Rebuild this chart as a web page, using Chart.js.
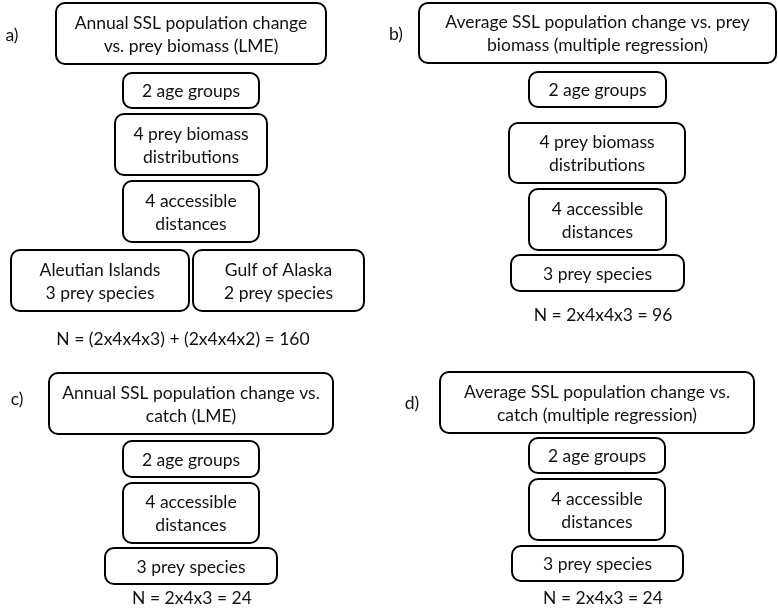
<!DOCTYPE html>
<html>
<head>
<meta charset="utf-8">
<script src="https://cdn.jsdelivr.net/npm/chart.js@4"></script>
<style>
  html, body { margin: 0; padding: 0; background: #fff; }
  #wrap { width: 778px; height: 612px; }
</style>
</head>
<body>
<div id="wrap"><canvas id="chart"></canvas></div>
<script>
// ---------------------------------------------------------------
//  Model design diagram – boxes drawn on hidden linear scales
// ---------------------------------------------------------------

// box texts (lines split by "|")
const boxLabels = [
    "Annual SSL population change|vs. prey biomass (LME)",
    "2 age groups",
    "4 prey biomass|distributions",
    "4 accessible|distances",
    "Aleutian Islands|3 prey species",
    "Gulf of Alaska|2 prey species",
    "Average SSL population change vs. prey|biomass (multiple regression)",
    "2 age groups",
    "4 prey biomass|distributions",
    "4 accessible|distances",
    "3 prey species",
    "Annual SSL population change vs.|catch (LME)",
    "2 age groups",
    "4 accessible|distances",
    "3 prey species",
    "Average SSL population change vs.|catch (multiple regression)",
    "2 age groups",
    "4 accessible|distances",
    "3 prey species"
];
// box extents in diagram units
const boxLeft   = [56, 123, 115, 123, 11, 193, 419, 529, 509, 529, 511, 49, 123, 123, 105, 440, 529, 529, 512];
const boxRight  = [326, 259, 267, 259, 189, 364, 776, 666, 685, 666, 684, 333, 259, 259, 277, 754, 665, 665, 683];
const boxTop    = [3, 73, 114, 181, 250, 250, 3, 72, 123, 189, 255, 373, 441, 483, 548, 372, 438, 479, 546];
const boxBottom = [64, 108, 175, 242, 311, 311, 63, 107, 183, 250, 291, 434, 477, 543, 584, 433, 473, 540, 581];

// free text: panel letters and sample sizes
const noteLabels = ["a)", "b)", "c)", "d)",
    "N = (2x4x4x3) + (2x4x4x2) = 160", "N = 2x4x4x3 = 96",
    "N = 2x4x3 = 24", "N = 2x4x3 = 24"];
const noteX = [12, 396, 17, 412, 183, 603, 192, 603];
const noteY = [35, 34, 399, 403, 339, 315, 598, 598];

const FONT = "Lato";
const FONT_SIZE = 17.5;
const LINE_H = 23;

const boxPlugin = {
    id: "boxes",
    afterDatasetsDraw(chart) {
        const ctx = chart.ctx;
        const xs = chart.scales.x;
        const ys = chart.scales.y;

        ctx.save();
        ctx.font = `${FONT_SIZE}px ${FONT}`;
        ctx.textAlign = "center";
        ctx.textBaseline = "middle";

        boxLabels.forEach((txt, i) => {
            const x0 = xs.getPixelForValue(boxLeft[i]);
            const x1 = xs.getPixelForValue(boxRight[i]);
            const y0 = ys.getPixelForValue(boxTop[i]);
            const y1 = ys.getPixelForValue(boxBottom[i]);

            ctx.beginPath();
            ctx.roundRect(x0, y0, x1 - x0, y1 - y0, 9);
            ctx.lineWidth = 2;
            ctx.strokeStyle = "#000";
            ctx.stroke();

            const lines = txt.split("|");
            const cx = (x0 + x1) / 2;
            const cy = (y0 + y1) / 2 + 1;
            ctx.fillStyle = "#111";
            lines.forEach((ln, k) => {
                ctx.fillText(ln, cx, cy + (k - (lines.length - 1) / 2) * LINE_H);
            });
        });

        noteLabels.forEach((txt, i) => {
            ctx.fillStyle = "#111";
            ctx.fillText(txt, xs.getPixelForValue(noteX[i]), ys.getPixelForValue(noteY[i]));
        });
        ctx.restore();
    }
};

new Chart(document.getElementById("chart").getContext("2d"), {
    type: "scatter",
    data: {
        datasets: [{
            data: boxLabels.map((_, i) => ({
                x: (boxLeft[i] + boxRight[i]) / 2,
                y: (boxTop[i] + boxBottom[i]) / 2
            })),
            pointRadius: 0
        }]
    },
    options: {
        responsive: true,
        maintainAspectRatio: false,
        animation: false,
        layout: { padding: 0 },
        plugins: { legend: { display: false }, tooltip: { enabled: false } },
        scales: {
            x: { type: "linear", min: 0, max: 778, display: false },
            y: { type: "linear", min: 0, max: 612, reverse: true, display: false }
        }
    },
    plugins: [boxPlugin]
});
</script>
</body>
</html>
